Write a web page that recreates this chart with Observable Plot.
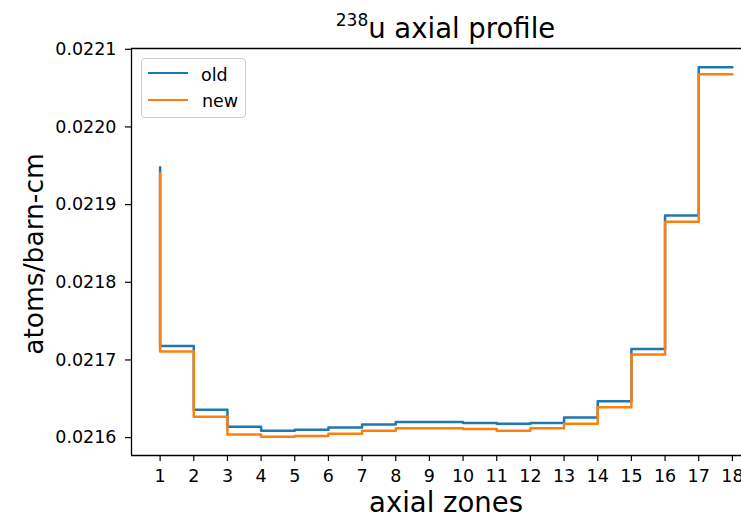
<!DOCTYPE html>
<html><head><meta charset="utf-8">
<script src="https://cdn.jsdelivr.net/npm/d3@7"></script>
<script src="https://cdn.jsdelivr.net/npm/@observablehq/plot@0.6"></script>
<style>
body{margin:0;background:#fff;}
#wrap{position:relative;width:741px;height:518px;overflow:hidden;font-family:"DejaVu Sans",sans-serif;color:#000;background:#fff;}
#title{position:absolute;left:131px;width:629px;top:13px;text-align:center;font-size:27.5px;line-height:30px;white-space:nowrap;}
#title .sup{font-size:17px;position:relative;top:-12px;}
#chart{position:absolute;left:0;top:40px;}
#legend{position:absolute;left:141px;top:58px;width:105px;height:60px;border:1px solid #ccc;border-radius:4px;background:rgba(255,255,255,0.8);box-sizing:border-box;}
#legend .ln{position:absolute;left:6px;width:40px;height:2.2px;}
#legend .tx{position:absolute;font-size:17.5px;line-height:20px;}
</style>
</head><body>
<div id="wrap">
  <div id="title"><span class="sup">238</span>u axial profile</div>
  <div id="chart"></div>
  <div id="legend"></div>
</div>
<script>
const zones = [1,2,3,4,5,6,7,8,9,10,11,12,13,14,15,16,17,18];
const oldVals = [0.021948,0.021718,0.021636,0.021614,0.021609,0.021610,0.021613,0.021617,0.021620,0.021620,0.021619,0.021618,0.021619,0.021626,0.021647,0.021714,0.021886,0.022077];
const newVals = [0.021940,0.021711,0.021627,0.021604,0.021601,0.021602,0.021605,0.021609,0.021612,0.021612,0.021611,0.021609,0.021612,0.021618,0.021639,0.021707,0.021878,0.022068];
const yTicks = [0.0216,0.0217,0.0218,0.0219,0.0220,0.0221];
const seriesNames = ["old","new"];
const seriesColors = ["#1f77b4","#ff7f0e"];
const xLabel = "axial zones";
const yLabel = "atoms/barn-cm";

const oldData = zones.map((z,i)=>({x:z,y:oldVals[i]}));
const newData = zones.map((z,i)=>({x:z,y:newVals[i]}));
const xMin = 0.15, xMax = 18.85, yMin = 0.021577, yMax = 0.022101;

const chart = Plot.plot({
  width: 741,
  height: 478,
  marginLeft: 131,
  marginRight: 0,
  marginTop: 8,
  marginBottom: 63,
  style: {fontFamily: "DejaVu Sans, sans-serif", fontSize: "17.5px", color: "#000", background: "transparent"},
  x: {domain: [xMin, xMax], range: [131, 760.5]},
  y: {domain: [yMin, yMax]},
  marks: [
    Plot.line(oldData, {x: "x", y: "y", curve: "step-before", stroke: seriesColors[0], strokeWidth: 2.5}),
    Plot.line(newData, {x: "x", y: "y", curve: "step-before", stroke: seriesColors[1], strokeWidth: 2.5}),
    Plot.ruleX([xMin], {stroke: "#000", strokeWidth: 1.3}),
    Plot.ruleY([yMin, yMax], {stroke: "#000", strokeWidth: 1.3}),
    Plot.axisX({ticks: zones, tickSize: 6, tickPadding: 8, tickFormat: d => String(d), label: null, stroke: "#000", strokeWidth: 1.2}),
    Plot.axisY({ticks: yTicks, tickSize: 6, tickPadding: 9, tickFormat: d3.format(".4f"), label: null, stroke: "#000", strokeWidth: 1.2}),
    Plot.text([xLabel], {frameAnchor: "bottom", lineAnchor: "bottom", textAnchor: "middle", dy: 56, dx: 9.5, fontSize: 27.5, text: d => d, fill: "#000"}),
    Plot.text([yLabel], {frameAnchor: "left", textAnchor: "middle", rotate: -90, dx: -89, dy: 2, fontSize: 26.5, text: d => d, fill: "#000", lineAnchor: "bottom"})
  ]
});
document.getElementById("chart").appendChild(chart);

const legend = document.getElementById("legend");
const tops = [14, 41];
const textTops = [6, 32];
seriesNames.forEach((name, i) => {
  const ln = document.createElement("div");
  ln.className = "ln";
  ln.style.top = (tops[i] - 1) + "px";
  ln.style.background = seriesColors[i];
  legend.appendChild(ln);
  const tx = document.createElement("div");
  tx.className = "tx";
  tx.style.left = (i === 0 ? 59 : 60) + "px";
  tx.style.top = textTops[i] + "px";
  tx.textContent = name;
  legend.appendChild(tx);
});
</script>
</body></html>
